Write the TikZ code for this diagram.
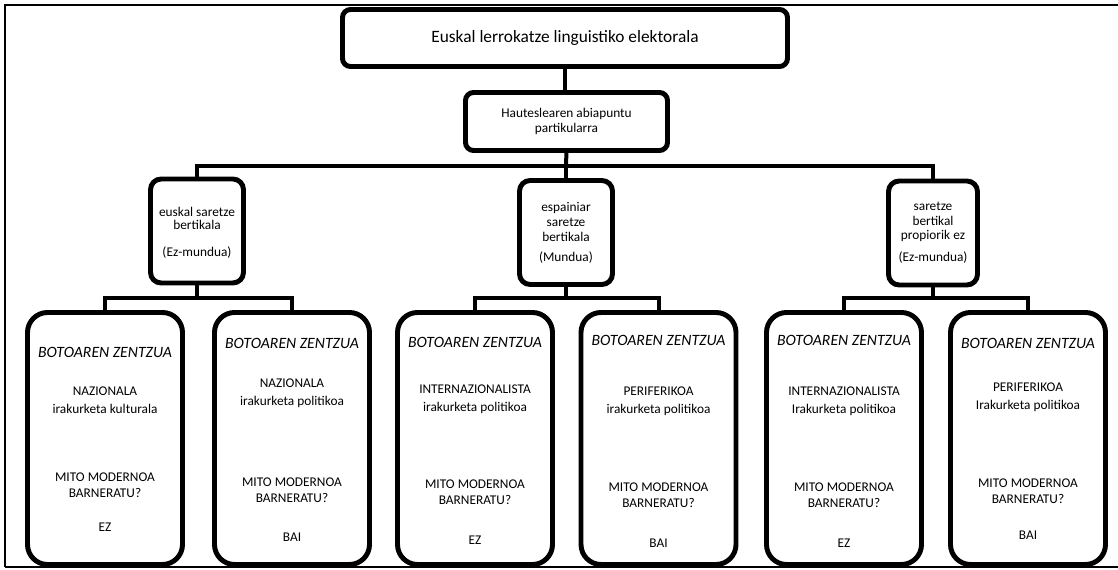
\documentclass[tikz,border=0pt]{standalone}
\usepackage{fontspec}
\setmainfont{Carlito}
\newcommand\mkbot[8]{%
  % #1 name, #2 x, #3 title y, #4 pair y, #5 pair text, #6 mito y, #7 answer y, #8 answer
  \node[bbox] (#1) at (#2,438.5) {};
  \node[ital] (#1t) at (#2,#3) {BOTOAREN ZENTZUA};
  \node[pair] (#1p) at (#2,#4) {#5};
  \node[mito] (#1m) at (#2,#6) {MITO MODERNOA\\BARNERATU?};
  \node[body] (#1a) at (#2,#7) {#8};
}
\begin{document}
\begin{tikzpicture}[x=0.75pt,y=-0.75pt,
  box/.style={draw,line width=3.7pt,inner sep=0pt,outer sep=0pt,fill=white,align=center},
  topbox/.style={box,rounded corners=6pt,minimum width={445*0.75pt},minimum height={57*0.75pt},font=\fontsize{13}{15}\selectfont},
  secbox/.style={box,rounded corners=6pt,minimum width={202*0.75pt},minimum height={58*0.75pt},font=\fontsize{10}{10.8}\selectfont},
  midbox/.style={box,rounded corners=8pt,minimum width={93*0.75pt},minimum height={104*0.75pt}},
  bbox/.style={box,rounded corners=15pt,minimum width={155*0.75pt},minimum height={252*0.75pt}},
  conn/.style={line width=3pt},
  body/.style={inner sep=0pt,align=center,font=\fontsize{10}{12}\selectfont},
  pair/.style={inner sep=0pt,align=center,font=\fontsize{10}{13.5}\selectfont},
  mito/.style={inner sep=0pt,align=center,font=\fontsize{10}{12}\selectfont},
  ital/.style={inner sep=0pt,font=\fontsize{11.8}{13}\selectfont\itshape},
  midtxt/.style={inner sep=0pt,align=center,font=\fontsize{10}{10.2}\selectfont}]
\useasboundingbox (0,0) rectangle (1118,570);
\draw[line width=1.1pt] (5,567) -- (5,5) -- (1130,5);
\draw[line width=1.1pt] (5,567) -- (1130,567);

% top level
\node[topbox] (top) at (565,38) {Euskal lerrokatze linguistiko elektorala};
\node[secbox] (sec) at (566.5,121.5) {Hauteslearen abiapuntu\\partikularra};

% middle boxes
\node[midbox] (m1) at (197,231) {};
\node[midtxt] (m1a) at (197,218.5) {euskal saretze\\bertikala};
\node[midtxt] (m1b) at (197,253) {(Ez-mundua)};
\node[midbox] (m2) at (566,232.5) {};
\node[midtxt,font=\fontsize{10}{11}\selectfont] (m2a) at (566,222) {espainiar\\saretze\\bertikala};
\node[midtxt] (m2b) at (566,258) {(Mundua)};
\node[midbox,minimum width={89*0.75pt}] (m3) at (933,233) {};
\node[midtxt,font=\fontsize{10}{11}\selectfont] (m3a) at (933,222) {saretze\\bertikal\\propiorik ez};
\node[midtxt] (m3b) at (933,258) {(Ez-mundua)};

% bottom boxes
\mkbot{b1}{105}{352}{400}{NAZIONALA\\irakurketa kulturala}{485}{527}{EZ}
\mkbot{b2}{292}{343}{393.5}{NAZIONALA\\irakurketa politikoa}{490}{537}{BAI}
\mkbot{b3}{475}{342}{399}{INTERNAZIONALISTA\\irakurketa politikoa}{492.5}{540}{EZ}
\mkbot{b4}{658.5}{340}{401}{PERIFERIKOA\\irakurketa politikoa}{495.5}{543}{BAI}
\mkbot{b5}{844}{340}{401}{INTERNAZIONALISTA\\Irakurketa politikoa}{495.5}{543}{EZ}
\mkbot{b6}{1028}{343}{397.5}{PERIFERIKOA\\Irakurketa politikoa}{491}{535}{BAI}

% connectors
\coordinate (h0) at (566,166);
\draw[conn] (top.south) -- (top.south |- sec.north);
\draw[conn] (sec.south) -- (h0);
\draw[conn] (m1.north) |- (h0) -| (m3.north);
\draw[conn] (h0) -- (m2.north);

\coordinate (h1) at (197,298);
\coordinate (h2) at (566,298);
\coordinate (h3) at (933,298);
\draw[conn] (m1.south) -- (h1);
\draw[conn] (m2.south) -- (h2);
\draw[conn] (m3.south) -- (h3);
\draw[conn] (b1.north) |- (h1) -| (b2.north);
\draw[conn] (b3.north) |- (h2) -| (b4.north);
\draw[conn] (b5.north) |- (h3) -| (b6.north);
\end{tikzpicture}
\end{document}
